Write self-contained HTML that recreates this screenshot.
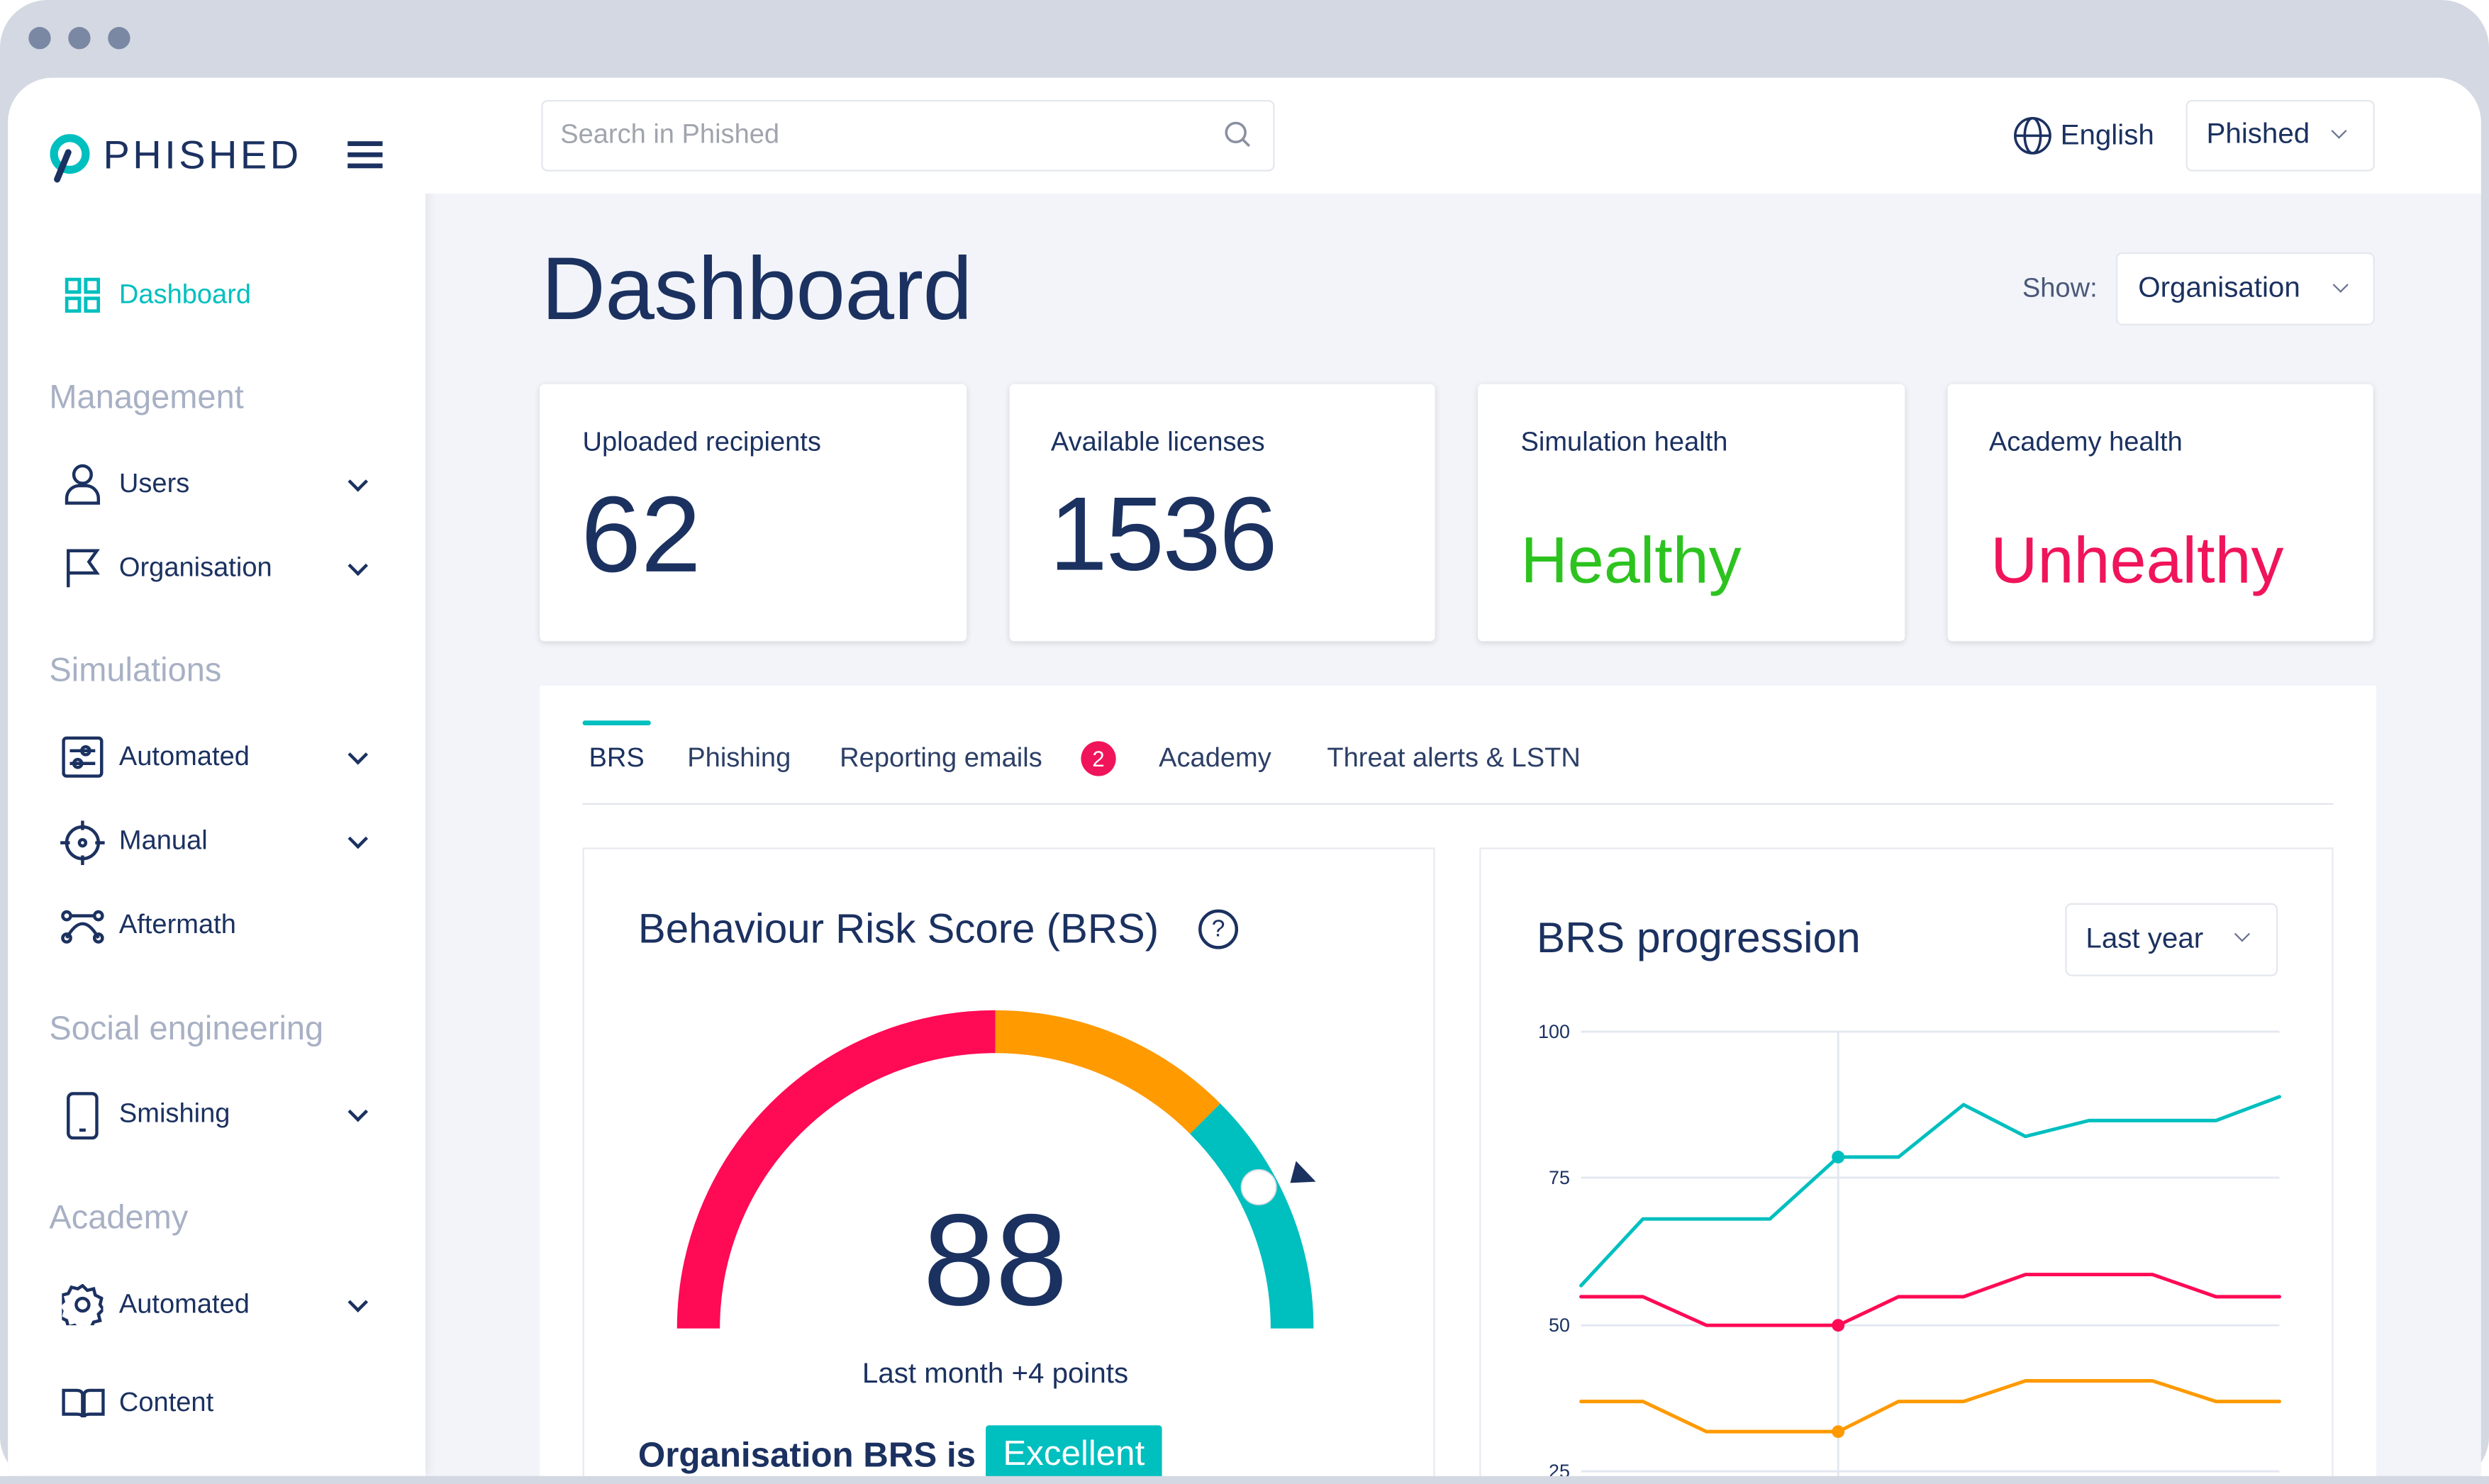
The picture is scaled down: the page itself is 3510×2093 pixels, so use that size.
<!DOCTYPE html>
<html><head><meta charset="utf-8">
<style>
html,body{margin:0;padding:0;width:3510px;height:2093px;overflow:hidden;background:#fff;}
#s{position:absolute;left:0;top:0;width:1568px;height:935px;transform:scale(2.23852);transform-origin:0 0;font-family:"Liberation Sans",sans-serif;color:#1b3160;overflow:hidden;}
.a{position:absolute;white-space:nowrap;}
.frame{position:absolute;left:0;top:0;width:1568px;height:935px;background:#d3d8e2;border-radius:30px;}
.dot{position:absolute;top:17px;width:14px;height:14px;border-radius:50%;background:#7b88a3;}
.win{position:absolute;left:5px;top:49px;width:1558px;height:881px;background:#f2f4f9;border-radius:28px 28px 0 0;overflow:hidden;}
.side{position:absolute;left:0;top:0;width:263px;height:881px;background:#fff;box-shadow:2px 0 6px rgba(0,0,0,.06);}
.top{position:absolute;left:263px;top:0;right:0;height:73px;background:#fff;}
.box{position:absolute;background:#fff;border:1.5px solid #e4e7ee;border-radius:4px;box-sizing:border-box;}
.card{position:absolute;background:#fff;border-radius:3px;box-shadow:0 1px 4px rgba(0,0,0,.12);}
.h{font-size:21px;color:#a8b0c4;}
.it{font-size:17px;color:#1b3160;}
.chev{position:absolute;width:7px;height:7px;border-right:2px solid #1b3160;border-bottom:2px solid #1b3160;transform:rotate(45deg);}
.chevl{position:absolute;width:6px;height:6px;border-right:1.3px solid #6a7590;border-bottom:1.3px solid #6a7590;transform:rotate(45deg);}
</style></head><body>
<div id="s">
<div class="frame"></div>
<div class="dot" style="left:18px"></div><div class="dot" style="left:43px"></div><div class="dot" style="left:68px"></div>
<div class="win">
 <div class="side"></div>
 <div class="top"></div>
</div>
<svg class="a" style="left:28px;top:84px" width="30" height="32" viewBox="0 0 30 32"><circle cx="16" cy="13" r="10" fill="none" stroke="#00bfbf" stroke-width="5"/><line x1="15" y1="12" x2="8" y2="29" stroke="#1b3160" stroke-width="4" stroke-linecap="round"/></svg>
<div class="a" style="left:65px;top:84px;font-size:25px;letter-spacing:2px;color:#1b3160;">PHISHED</div>
<div class="a" style="left:219px;top:89px;width:22px;height:3px;background:#1b3160;box-shadow:0 7px 0 #1b3160,0 14px 0 #1b3160;"></div>
<svg class="a" style="left:41px;top:175px" width="22" height="22"><g fill="none" stroke="#00bfbf" stroke-width="2.2"><rect x="1" y="1" width="8" height="8"/><rect x="13" y="1" width="8" height="8"/><rect x="1" y="13" width="8" height="8"/><rect x="13" y="13" width="8" height="8"/></g></svg>
<div class="a" style="left:75px;top:176px;font-size:17px;color:#00bfbf;">Dashboard</div>
<div class="a h" style="left:31px;top:239px;">Management</div>
<div class="a h" style="left:31px;top:411px;">Simulations</div>
<div class="a h" style="left:31px;top:637px;">Social engineering</div>
<div class="a h" style="left:31px;top:756px;">Academy</div>
<svg class="a" style="left:40px;top:292px" width="24" height="26"><g fill="none" stroke="#1b3160" stroke-width="2"><circle cx="12" cy="7" r="5.5"/><path d="M2 25v-3a8 8 0 0 1 8-8h4a8 8 0 0 1 8 8v3z"/></g></svg>
<div class="a it" style="left:75px;top:295px;">Users</div><div class="chev" style="left:221px;top:299px"></div>
<svg class="a" style="left:40px;top:345px" width="24" height="26"><g fill="none" stroke="#1b3160" stroke-width="2"><path d="M3 25V2h18l-5 7 5 7H3"/></g></svg>
<div class="a it" style="left:75px;top:348px;">Organisation</div><div class="chev" style="left:221px;top:352px"></div>
<svg class="a" style="left:39px;top:464px" width="26" height="26"><g fill="none" stroke="#1b3160" stroke-width="2"><rect x="1" y="1" width="24" height="24" rx="2"/><line x1="5" y1="9" x2="21" y2="9"/><line x1="5" y1="17" x2="21" y2="17"/><circle cx="15" cy="9" r="2.5"/><circle cx="10" cy="17" r="2.5"/></g></svg>
<div class="a it" style="left:75px;top:467px;">Automated</div><div class="chev" style="left:221px;top:471px"></div>
<svg class="a" style="left:38px;top:517px" width="28" height="28"><g fill="none" stroke="#1b3160" stroke-width="2"><circle cx="14" cy="14" r="10"/><circle cx="14" cy="14" r="2"/><path d="M14 0v6M14 22v6M0 14h6M22 14h6"/></g></svg>
<div class="a it" style="left:75px;top:520px;">Manual</div><div class="chev" style="left:221px;top:524px"></div>
<svg class="a" style="left:38px;top:573px" width="28" height="22"><g fill="none" stroke="#1b3160" stroke-width="2"><path d="M4 18Q14 0 24 18"/><circle cx="4" cy="18" r="2.5"/><circle cx="24" cy="18" r="2.5"/><circle cx="4" cy="4" r="2.5"/><circle cx="24" cy="4" r="2.5"/><path d="M6 4h16"/></g></svg>
<div class="a it" style="left:75px;top:573px;">Aftermath</div>
<svg class="a" style="left:42px;top:688px" width="20" height="30"><g fill="none" stroke="#1b3160" stroke-width="2"><rect x="1" y="1" width="18" height="28" rx="3"/><line x1="8" y1="24" x2="12" y2="24"/></g></svg>
<div class="a it" style="left:75px;top:692px;">Smishing</div><div class="chev" style="left:221px;top:696px"></div>
<svg class="a" style="left:39px;top:809px" width="26" height="26"><g fill="none" stroke="#1b3160" stroke-width="2"><circle cx="13" cy="13" r="4"/><path d="M13 1l3 3 4-1 1 4 4 2-1 4 2 3-3 3 1 4-4 1-2 4-4-1-3 2-3-3-4 1-1-4-4-2 1-4-2-3 3-3-1-4 4-1 2-4 4 1z"/></g></svg>
<div class="a it" style="left:75px;top:812px;">Automated</div><div class="chev" style="left:221px;top:816px"></div>
<svg class="a" style="left:39px;top:874px" width="27" height="20"><g fill="none" stroke="#1b3160" stroke-width="2"><path d="M1 2h8q4 0 4 3v14q0-2-4-2H1zM26 2h-8q-4 0-4 3v14q0-2 4-2h8z"/></g></svg>
<div class="a it" style="left:75px;top:874px;">Content</div>

<div class="box" style="left:341px;top:63px;width:462px;height:45px;"></div>
<div class="a" style="left:353px;top:75px;font-size:17px;color:#a0a4ad;">Search in Phished</div>
<svg class="a" style="left:771px;top:76px" width="18" height="18"><g fill="none" stroke="#8a90a0" stroke-width="1.6"><circle cx="7.5" cy="7.5" r="6"/><line x1="12" y1="12" x2="16" y2="16"/></g></svg>
<svg class="a" style="left:1268px;top:73px" width="25" height="25"><g fill="none" stroke="#1b3160" stroke-width="1.6"><circle cx="12.5" cy="12.5" r="11"/><ellipse cx="12.5" cy="12.5" rx="5" ry="11"/><line x1="1.5" y1="12.5" x2="23.5" y2="12.5"/></g></svg>
<div class="a" style="left:1298px;top:75px;font-size:18px;">English</div>
<div class="box" style="left:1377px;top:63px;width:119px;height:45px;"></div>
<div class="a" style="left:1390px;top:74px;font-size:18px;">Phished</div>
<div class="chevl" style="left:1470px;top:79px"></div>

<div class="a" style="left:341px;top:149px;font-size:56px;letter-spacing:-0.3px;">Dashboard</div>
<div class="a" style="left:1274px;top:172px;font-size:17px;color:#4a5878;">Show:</div>
<div class="box" style="left:1333px;top:159px;width:163px;height:46px;"></div>
<div class="a" style="left:1347px;top:171px;font-size:18px;">Organisation</div>
<div class="chevl" style="left:1471px;top:176px"></div>

<div class="card" style="left:340px;top:242px;width:269px;height:162px;"></div>
<div class="card" style="left:636px;top:242px;width:268px;height:162px;"></div>
<div class="card" style="left:931px;top:242px;width:269px;height:162px;"></div>
<div class="card" style="left:1227px;top:242px;width:268px;height:162px;"></div>
<div class="a" style="left:367px;top:269px;font-size:17px;">Uploaded recipients</div>
<div class="a" style="left:662px;top:269px;font-size:17px;">Available licenses</div>
<div class="a" style="left:958px;top:269px;font-size:17px;">Simulation health</div>
<div class="a" style="left:1253px;top:269px;font-size:17px;">Academy health</div>
<div class="a" style="left:366px;top:298px;font-size:68px;">62</div>
<div class="a" style="left:661px;top:298px;font-size:66px;letter-spacing:-1px;">1536</div>
<div class="a" style="left:958px;top:330px;font-size:41px;color:#2dc31f;">Healthy</div>
<div class="a" style="left:1254px;top:330px;font-size:41px;color:#f0145a;">Unhealthy</div>

<div class="a" style="left:340px;top:432px;width:1157px;height:503px;background:#fff;"></div>
<div class="a" style="left:367px;top:454px;width:43px;height:3px;background:#00bfbf;border-radius:2px;"></div>
<div class="a" style="left:371px;top:468px;font-size:17px;">BRS</div>
<div class="a" style="left:433px;top:468px;font-size:17px;color:#2c3f66;">Phishing</div>
<div class="a" style="left:529px;top:468px;font-size:17px;color:#2c3f66;">Reporting emails</div>
<div class="a" style="left:681px;top:467px;width:22px;height:22px;border-radius:50%;background:#f0145a;color:#fff;font-size:14px;text-align:center;line-height:22px;">2</div>
<div class="a" style="left:730px;top:468px;font-size:17px;color:#2c3f66;">Academy</div>
<div class="a" style="left:836px;top:468px;font-size:17px;color:#2c3f66;">Threat alerts &amp; LSTN</div>
<div class="a" style="left:367px;top:506px;width:1103px;height:1px;background:#e2e5ec;"></div>

<div class="a" style="left:367px;top:534px;width:537px;height:410px;border:1px solid #e8eaf0;box-sizing:border-box;"></div>
<div class="a" style="left:932px;top:534px;width:538px;height:410px;border:1px solid #e8eaf0;box-sizing:border-box;"></div>

<div class="a" style="left:402px;top:570px;font-size:26px;">Behaviour Risk Score (BRS)</div>
<div class="a" style="left:755px;top:573px;width:21px;height:21px;border:2px solid #1b3160;border-radius:50%;font-size:15px;text-align:center;line-height:21px;">?</div>

<svg class="a" style="left:400px;top:620px" width="460" height="230" viewBox="400 620 460 230">
 <path d="M440 837 A187 187 0 0 1 627 650" fill="none" stroke="#ff0a55" stroke-width="27"/>
 <path d="M627 650 A187 187 0 0 1 759.2 704.8" fill="none" stroke="#ff9a00" stroke-width="27"/>
 <path d="M759.2 704.8 A187 187 0 0 1 814 837" fill="none" stroke="#00bfbf" stroke-width="27"/>
 <circle cx="793" cy="748" r="11" fill="#fff" stroke="#d7dbe2" stroke-width="0.8"/>
 <polygon points="818,731 828,746 812,744" fill="#1b3160" transform="rotate(-10 820 740)"/>
</svg>
<div class="a" style="left:527px;top:750px;width:200px;text-align:center;font-size:82px;line-height:90px;">88</div>
<div class="a" style="left:527px;top:855px;width:200px;text-align:center;font-size:18px;">Last month +4 points</div>
<div class="a" style="left:402px;top:904px;font-size:22px;font-weight:bold;">Organisation BRS is</div>
<div class="a" style="left:621px;top:898px;width:111px;height:37px;background:#00bfbf;color:#fff;font-size:22px;text-align:center;line-height:36px;border-radius:2px 2px 0 0;">Excellent</div>

<div class="a" style="left:968px;top:576px;font-size:27px;">BRS progression</div>
<div class="box" style="left:1301px;top:569px;width:134px;height:46px;"></div>
<div class="a" style="left:1314px;top:581px;font-size:18px;">Last year</div>
<div class="chevl" style="left:1409px;top:585px"></div>

<svg class="a" style="left:940px;top:630px" width="520" height="305" viewBox="940 630 520 305">
 <g stroke="#e3e7f0" stroke-width="1.3"><line x1="996" y1="650" x2="1436" y2="650"/><line x1="996" y1="742" x2="1436" y2="742"/><line x1="996" y1="835" x2="1436" y2="835"/><line x1="996" y1="927" x2="1436" y2="927"/><line x1="1158" y1="650" x2="1158" y2="935"/></g>
 <g font-family="Liberation Sans, sans-serif" font-size="12" fill="#1b3160" text-anchor="end"><text x="989" y="654">100</text><text x="989" y="746">75</text><text x="989" y="839">50</text><text x="989" y="931">25</text></g>
 <g fill="none" stroke-width="2.2" stroke-linejoin="round" stroke-linecap="round">
 <polyline stroke="#00bfbf" points="996,810 1035,768 1075,768 1115,768 1158,729 1196,729 1237,696 1276,716 1316,706 1356,706 1396,706 1436,691"/>
 <polyline stroke="#ff0a55" points="996,817 1035,817 1075,835 1115,835 1158,835 1196,817 1237,817 1276,803 1316,803 1356,803 1396,817 1436,817"/>
 <polyline stroke="#ff9a00" points="996,883 1035,883 1075,902 1115,902 1158,902 1196,883 1237,883 1276,870 1316,870 1356,870 1396,883 1436,883"/>
 </g>
 <circle cx="1158" cy="729" r="4" fill="#00bfbf"/><circle cx="1158" cy="835" r="4" fill="#ff0a55"/><circle cx="1158" cy="902" r="4" fill="#ff9a00"/>
</svg>
<div class="a" style="left:0;top:930px;width:1568px;height:10px;background:#d3d8e2;"></div>
</div>
</body></html>
